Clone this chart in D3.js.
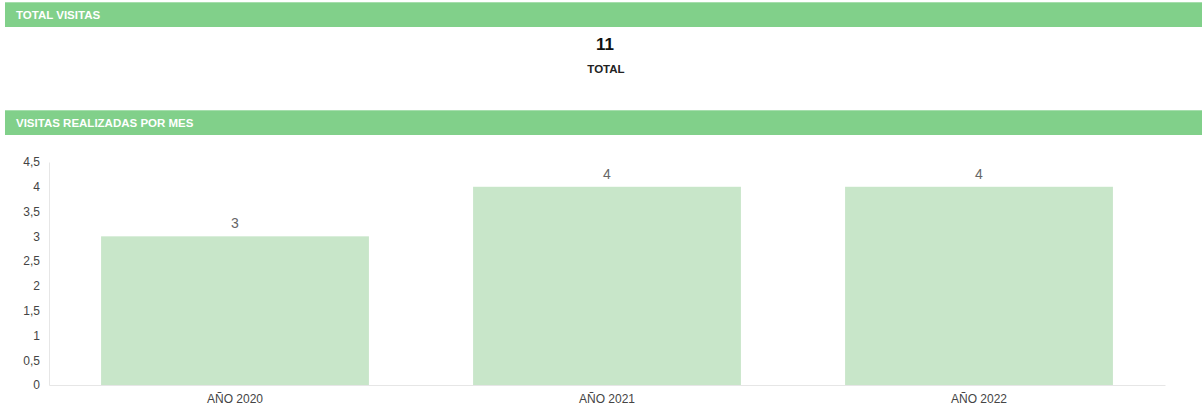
<!DOCTYPE html>
<html>
<head>
<meta charset="utf-8">
<script src="https://d3js.org/d3.v7.min.js"></script>
<style>
  body { margin: 0; background: #fff; font-family: "Liberation Sans", Arial, sans-serif; }
  svg { display: block; }
</style>
</head>
<body>
<svg id="chart" width="1202" height="408"></svg>
<script>
const categories = ['AÑO 2020', 'AÑO 2021', 'AÑO 2022'];
const visitas = [3, 4, 4];
const yTicks = [0, 0.5, 1, 1.5, 2, 2.5, 3, 3.5, 4, 4.5];
const total = 11;

const svg = d3.select('#chart');
const width = +svg.attr('width');

// cabeceras verdes
function header(y, text) {
  svg.append('rect').attr('x', 5).attr('y', y).attr('width', width - 5).attr('height', 25)
     .attr('fill', '#81d08a');
  svg.append('rect').attr('x', 5).attr('y', y).attr('width', width - 5).attr('height', 1)
     .attr('fill', '#a6dead');
  svg.append('text').text(text)
     .attr('x', 16).attr('y', y + 17)
     .attr('fill', '#fff').attr('font-size', '11.5px').attr('font-weight', 'bold');
}
header(2, 'TOTAL VISITAS');
header(110, 'VISITAS REALIZADAS POR MES');

svg.append('text').text(total)
   .attr('x', 605).attr('y', 50).attr('text-anchor', 'middle')
   .attr('font-size', '17px').attr('font-weight', 'bold').attr('fill', '#111');
svg.append('text').text('TOTAL')
   .attr('x', 606).attr('y', 73).attr('text-anchor', 'middle')
   .attr('font-size', '11.5px').attr('font-weight', 'bold').attr('fill', '#222');

// grafico de barras
const margin = {top: 162, left: 49, right: 37, bottom: 23};
const innerWidth = width - margin.left - margin.right;
const innerHeight = 408 - margin.top - margin.bottom;
const g = svg.append('g').attr('transform', `translate(${margin.left}, ${margin.top})`);

const xScale = d3.scaleBand().domain(categories).range([0, innerWidth]).paddingInner(0.28).paddingOuter(0.14);
const yScale = d3.scaleLinear().domain([0, 4.5]).range([innerHeight, 0]);

const yAxis = d3.axisLeft(yScale).tickValues(yTicks).tickSize(0).tickPadding(9)
                .tickFormat(d => String(d).replace('.', ','));
const xAxis = d3.axisBottom(xScale).tickSize(0).tickPadding(9);

g.selectAll('.bar').data(visitas).enter().append('rect')
 .attr('x', (d, i) => xScale(categories[i]))
 .attr('y', d => yScale(d))
 .attr('width', xScale.bandwidth())
 .attr('height', d => innerHeight - yScale(d))
 .attr('fill', '#c8e6c9');

g.selectAll('.lbl').data(visitas).enter().append('text')
 .text(d => d)
 .attr('x', (d, i) => xScale(categories[i]) + xScale.bandwidth() / 2)
 .attr('y', d => yScale(d) - 8)
 .attr('text-anchor', 'middle')
 .attr('font-size', '14px').attr('fill', '#666');

const ya = g.append('g').call(yAxis);
const xa = g.append('g').attr('transform', `translate(0, ${innerHeight})`).call(xAxis);
[ya, xa].forEach(a => {
  a.select('.domain').attr('stroke', '#e6e6e6');
  a.selectAll('.tick text').attr('font-size', '12px').attr('fill', '#444')
   .attr('font-family', '"Liberation Sans", Arial, sans-serif');
});
</script>
</body>
</html>
